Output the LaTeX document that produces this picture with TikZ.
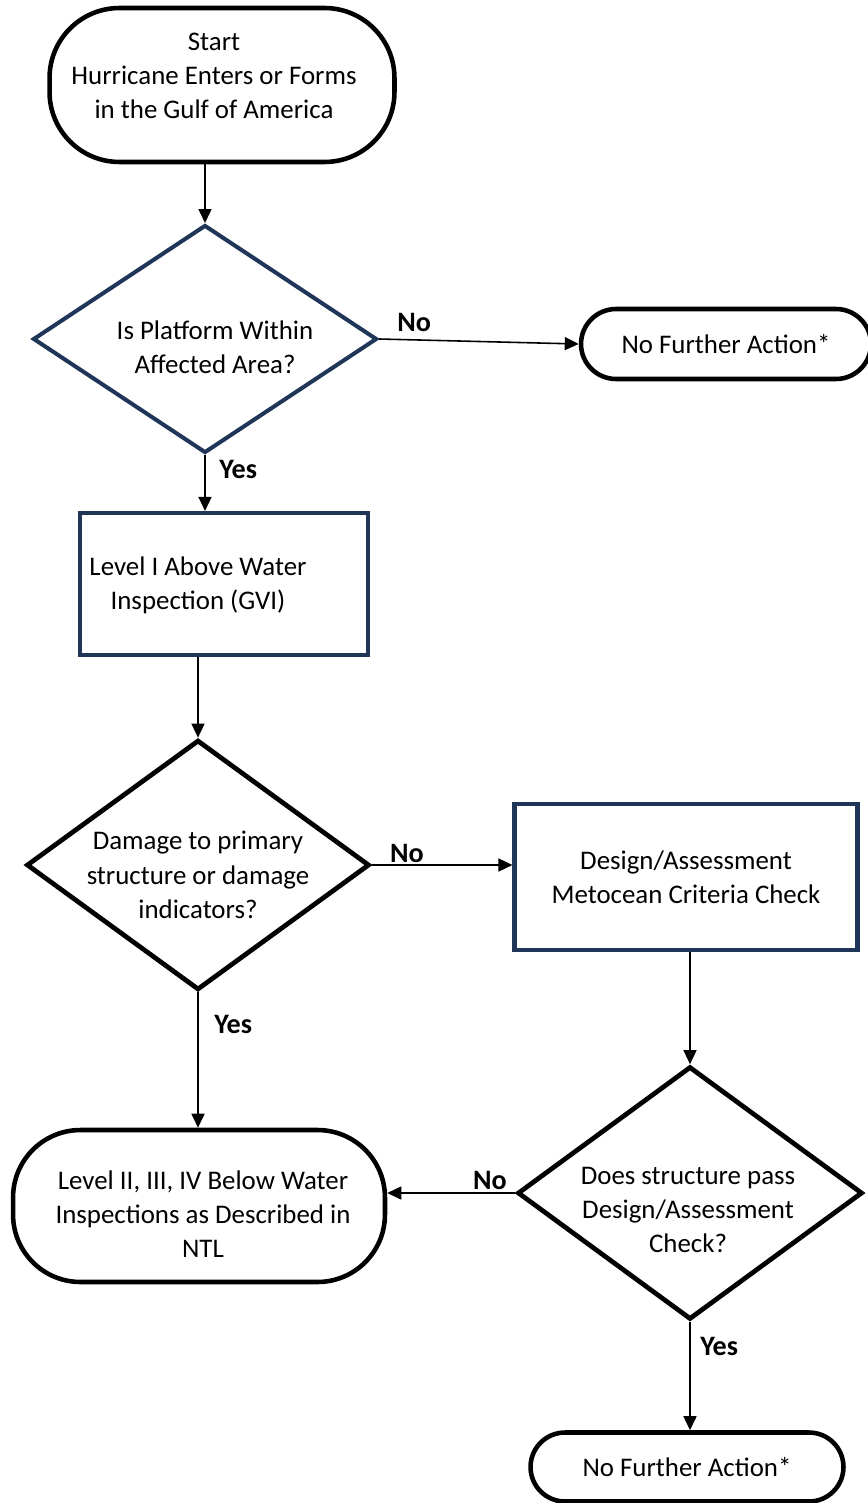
\documentclass[tikz,border=0pt]{standalone}
\usepackage{fontspec}
\setmainfont{Carlito}
\usetikzlibrary{positioning,shapes.geometric,arrows.meta,calc}
\definecolor{navy}{RGB}{31,54,88}
\tikzset{
txt/.style={align=center, font=\fontsize{15.3}{19.5}\selectfont},
term/.style={txt, draw=black, line width=2.6pt, rectangle},
ask/.style={diamond, inner sep=0pt, line width=2.7pt, draw=black},
box/.style={txt, rectangle, draw=navy, line width=2.4pt},
arr/.style={line width=0.9pt, -{Triangle[length=0.28cm,width=0.26cm]}},
lbl/.style={inner sep=0pt, font=\fontsize{16}{18}\selectfont\bfseries}
}

\begin{document}
\begin{tikzpicture}[x=0.02cm, y=-0.02cm]
  \useasboundingbox (0,0) rectangle (868,1503);

  \node[term, minimum width=6.9cm, minimum height=3.08cm, rounded corners=1.4cm] at (222,85) (start) {};
  \node[txt] at (214,76) (starttxt) {Start\\Hurricane Enters or Forms\\in the Gulf of America};

  \node[ask, draw=navy, line width=2.3pt, minimum width=6.88cm, minimum height=4.56cm] at (205,339) (d1) {};
  \node[txt] at (215,347) (d1txt) {Is Platform Within\\Affected Area?};

  \node[term, minimum width=5.8cm, minimum height=1.4cm, rounded corners=0.7cm] at (726,344)
  (nfa1) {No Further Action*};

  \node[box, minimum width=5.76cm, minimum height=2.84cm] at (224,584) (r1) {};
  \node[txt] at (198,585) (r1txt) {Level I Above Water\\Inspection (GVI)};

  \node[ask, minimum width=6.86cm, minimum height=5cm] at (198,865) (d2) {};
  \node[txt] at (198,875) (d2txt) {Damage to primary\\structure or damage\\indicators?};

  \node[box, minimum width=6.86cm, minimum height=2.92cm] at (686,877)
  (r2) {Design/Assessment\\Metocean Criteria Check};

  \node[ask, minimum width=6.9cm, minimum height=5.06cm] at (690,1193) (d3) {};
  \node[txt] at (688,1210) (d3txt) {Does structure pass\\Design/Assessment\\Check?};

  \node[term, minimum width=7.44cm, minimum height=3.04cm, rounded corners=1.35cm] at (199,1206) (l2) {};
  \node[txt] at (203,1214) (l2txt) {Level II, III, IV Below Water\\Inspections as Described in\\NTL};

  \node[term, minimum width=6.26cm, minimum height=1.38cm, rounded corners=0.69cm] at (687,1467)
  (nfa2) {No Further Action*};

  \draw[arr] (start.south -| d1.north) -- (d1.north);
  \draw[arr] (d1.east) -- (nfa1.west);
  \draw[arr] (d1.south) -- (d1.south |- r1.north);
  \draw[arr] (r1.south -| d2.north) -- (d2.north);
  \draw[arr] (d2.east) -- (d2.east -| r2.west);
  \draw[arr] (r2.south -| d3.north) -- (d3.north);
  \draw[arr] (d2.south) -- (d2.south |- l2.north);
  \draw[arr] (d3.west) -- (d3.west -| l2.east);
  \draw[arr] (d3.south) -- (d3.south |- nfa2.north);

  \node[lbl, above right=0.14cm and 0.36cm of d1.east] (no1) {No};
  \node[lbl, below right=0.1cm and 0.28cm of d1.south] (yes1) {Yes};
  \node[lbl, above right=0.04cm and 0.36cm of d2.east] (no2) {No};
  \node[lbl, below right=0.45cm and 0.32cm of d2.south] (yes2) {Yes};
  \node[lbl, above left=0.06cm and 0.16cm of d3.west] (no3) {No};
  \node[lbl, below right=0.3cm and 0.2cm of d3.south] (yes3) {Yes};
\end{tikzpicture}
\end{document}
